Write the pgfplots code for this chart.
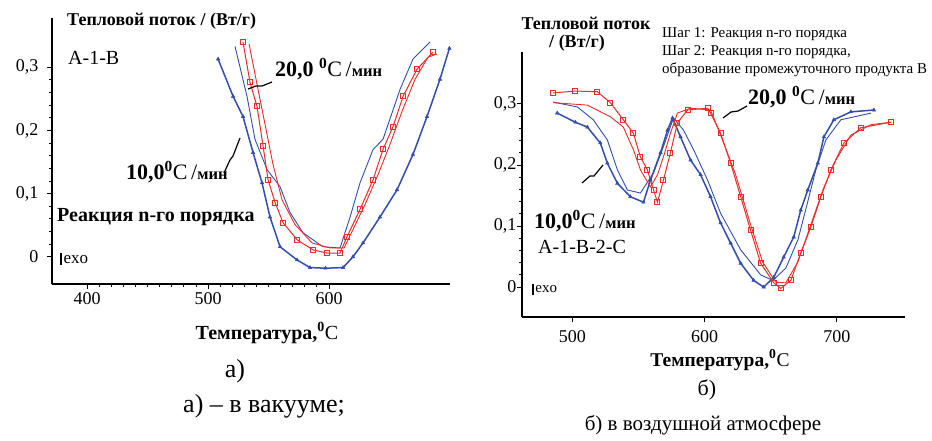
\documentclass[border=0pt]{standalone}
\usepackage{fontspec}
\setmainfont{Liberation Serif}
\usepackage{pgfplots}
\pgfplotsset{compat=1.18}

\definecolor{cblue}{RGB}{50,78,170}
\definecolor{cred}{RGB}{238,42,42}

\newcommand\fs[1]{\fontsize{#1}{#1}\selectfont}
\newcommand\rate[1]{\fs{22}\textbf{#1}\textsuperscript{\textbf{0}}C\,/\textbf{\fs{16.5}мин}}

\pgfplotsset{
  dsc/.style={
    scale only axis, clip=false,
    axis x line=bottom, axis y line=left,
    axis line style={-, line width=1.3pt},
    tick align=outside,
    major tick length=5pt, minor tick length=3pt,
    every tick/.style={black, line width=0.9pt},
    ticklabel style={font=\fs{18}},
    minor y tick num=4,
    ytick={0,0.1,0.2,0.3}, yticklabels={0,{0,1},{0,2},{0,3}},
  },
  bline/.style={draw=cblue, line width=0.9pt, no marks},
  bmark/.style={draw=cblue, line width=1.5pt, mark=triangle*, mark size=2pt,
    mark options={fill=cblue, draw=cblue, line width=0.5pt}},
  rline/.style={draw=cred, line width=0.9pt, no marks},
  rmark/.style={draw=cred, line width=1pt, mark=square, mark size=2.5pt,
    mark options={draw=cred, line width=1pt}},
}

\begin{document}
\begin{tikzpicture}
\useasboundingbox (0pt,0pt) rectangle (932pt,-440pt);

% ---------------- panel a): vacuum ----------------
\begin{axis}[dsc,
  at={(52pt,-284pt)}, anchor=south west, width=398pt, height=266pt,
  xmin=371, xmax=700, ymin=-0.043, ymax=0.378,
  xtick={400,500,600}, xticklabels={400,500,600},
  minor x tick num=9, yticklabel shift=5pt]
% 10 C/min, measured points
\addplot[bmark] coordinates {
 (508.3,0.313) (520.7,0.254) (528.9,0.222) (537.2,0.165) (544.6,0.117)
 (551.2,0.063) (559.5,0.016) (573.6,-0.005) (584.3,-0.017) (597.0,-0.018)
 (611.6,-0.017) (619.8,0.000) (628.1,0.022) (642.1,0.063) (656.2,0.106)
 (669.4,0.162) (681.0,0.222) (691.7,0.281) (699.5,0.330)};
% 10 C/min, model
\addplot[bline] coordinates {
 (522.3,0.333) (532.2,0.254) (538.8,0.186) (548.8,0.138) (559.5,0.111)
 (567.8,0.070) (578.5,0.038) (595.0,0.016) (609.1,0.014) (617.4,0.063)
 (625.6,0.117) (636.4,0.170) (644.6,0.186) (658.7,0.265) (669.4,0.313)
 (683.5,0.340)};
% 20 C/min, model
\addplot[rline] coordinates {
 (533.9,0.337) (541.3,0.265) (547.9,0.202) (553.7,0.146) (561.2,0.090)
 (571.9,0.051) (586.0,0.022) (600.8,0.014) (612.4,0.014) (619.0,0.040)
 (629.8,0.083) (640.5,0.130) (650.4,0.178) (660.3,0.230) (671.1,0.281)
 (681.8,0.316) (689.3,0.321)};
% 20 C/min, measured points
\addplot[rmark] coordinates {
 (528.9,0.340) (534.7,0.276) (540.5,0.238) (545.5,0.175) (549.6,0.122)
 (555.4,0.086) (562.0,0.054) (573.6,0.027) (586.8,0.011) (598.3,0.006)
 (609.1,0.006) (614.9,0.032) (625.6,0.075) (636.4,0.122) (644.6,0.170)
 (652.9,0.206) (661.2,0.254) (672.7,0.297) (686.0,0.324)};
\end{axis}

% ---------------- panel b): air ----------------
\begin{axis}[dsc,
  at={(522pt,-317pt)}, anchor=south west, width=383pt, height=265pt,
  xmin=462, xmax=751.5, ymin=-0.049, ymax=0.385,
  xtick={500,600,700}, xticklabels={500,600,700},
  xticklabel shift=5pt, yticklabel shift=-3pt]
% 10 C/min, measured points
\addplot[bmark] coordinates {
 (488.6,0.285) (502.3,0.270) (511.4,0.262) (521.2,0.236) (526.5,0.203)
 (534.1,0.170) (543.9,0.148) (553.8,0.139) (559.1,0.175) (566.7,0.220)
 (572.0,0.257) (575.8,0.277) (581.8,0.246) (589.4,0.208) (597.0,0.184)
 (604.5,0.148) (612.1,0.105) (619.7,0.072) (627.3,0.039) (637.1,0.011)
 (644.7,0.000) (652.3,0.016) (659.8,0.049) (667.4,0.082) (672.7,0.126)
 (678.0,0.159) (685.6,0.203) (690.2,0.246) (697.7,0.274) (710.6,0.287)
 (728.0,0.290)};
% 10 C/min, model
\addplot[bline] coordinates {
 (485.6,0.303) (503.8,0.295) (515.9,0.274) (526.5,0.241) (534.1,0.192)
 (541.7,0.159) (551.5,0.154) (561.4,0.187) (568.9,0.230) (576.5,0.277)
 (584.1,0.257) (591.7,0.225) (602.3,0.175) (612.1,0.121) (627.3,0.061)
 (642.4,0.020) (651.5,0.011) (661.4,0.031) (670.5,0.077) (677.3,0.134)
 (684.1,0.192) (691.7,0.241) (703.0,0.274) (725.8,0.285)};
% 20 C/min, model
\addplot[rline] coordinates {
 (485.6,0.302) (511.4,0.298) (528.8,0.279) (538.6,0.262) (546.2,0.225)
 (551.5,0.192) (559.1,0.164) (564.4,0.184) (568.9,0.213) (574.2,0.252)
 (579.5,0.285) (589.4,0.293) (604.5,0.290) (612.1,0.249) (623.5,0.184)
 (634.8,0.102) (643.9,0.041) (653.8,0.008) (661.4,0.007) (670.5,0.041)
 (680.3,0.102) (689.4,0.159) (699.2,0.208) (710.6,0.249) (725.8,0.266)
 (740.9,0.270)};
% 20 C/min, measured points
\addplot[rmark] coordinates {
 (485.6,0.318) (502.3,0.321) (518.9,0.320) (528.8,0.302) (538.6,0.274)
 (546.2,0.252) (551.5,0.213) (556.8,0.192) (561.4,0.159) (564.4,0.139)
 (568.9,0.175) (574.2,0.220) (579.5,0.269) (587.1,0.290) (602.3,0.293)
 (604.5,0.285) (612.1,0.252) (619.7,0.203) (627.3,0.148) (634.8,0.093)
 (642.4,0.039) (652.3,0.007) (657.6,-0.002) (665.2,0.011) (672.7,0.056)
 (680.3,0.098) (687.9,0.148) (695.5,0.192) (705.3,0.236) (718.2,0.261)
 (740.9,0.270)};
\end{axis}

% ---------------- annotations, panel a) ----------------
\node[anchor=west, inner sep=0] at (67pt,-21pt) {\fs{18}\bfseries Тепловой поток / (Вт/г)};
\node[anchor=west, inner sep=0] at (68pt,-58pt) {\fs{20}A-1-B};
\node[anchor=west, inner sep=0] at (275pt,-69pt) {\rate{20,0 }};
\draw[line width=1.2pt] (248pt,-89pt) -- (256pt,-86pt) -- (262pt,-86pt) -- (272pt,-82pt);
\node[anchor=west, inner sep=0] at (126pt,-172pt) {\rate{10,0}};
\draw[line width=1.2pt] (224pt,-173pt) -- (230pt,-160pt) -- (233pt,-156pt) -- (240pt,-138pt);
\node[anchor=west, inner sep=0] at (57pt,-217pt) {\fs{20}\bfseries Реакция n-го порядка};
\node[anchor=west, inner sep=0] at (60pt,-259pt) {\rule[-2pt]{1.8pt}{12pt}\,\fs{17}exo};
\node[inner sep=0] at (267pt,-333pt) {\fs{20}\textbf{Температура,\textsuperscript{0}}C};
\node[inner sep=0] at (235pt,-371pt) {\fs{26}а)};
\node[inner sep=0] at (264pt,-406pt) {\fs{26}а) – в вакууме;};

% ---------------- annotations, panel b) ----------------
\node[inner sep=0] at (586pt,-23pt) {\fs{18}\bfseries Тепловой поток};
\node[inner sep=0] at (577pt,-43pt) {\fs{18}\bfseries / (Вт/г)};
\node[anchor=north west, inner sep=0, align=left,
      font={\fontsize{15}{18}\selectfont}] at (662pt,-27pt)
  {Шаг 1: Реакция n-го порядка\\ Шаг 2: Реакция n-го порядка,\\
   образование промежуточного продукта В};
\node[anchor=west, inner sep=0] at (748pt,-97pt) {\rate{20,0 }};
\draw[line width=1.2pt] (723pt,-118pt) -- (731pt,-112pt) -- (738pt,-111pt) -- (747pt,-106pt);
\node[anchor=west, inner sep=0] at (534pt,-221pt) {\rate{10,0}};
\draw[line width=1.2pt] (582pt,-183pt) -- (590pt,-176pt) -- (594pt,-176pt) -- (603pt,-165pt);
\node[anchor=west, inner sep=0] at (538pt,-247pt) {\fs{20}A-1-B-2-C};
\node[anchor=west, inner sep=0] at (532pt,-289pt) {\rule[-2pt]{1.6pt}{11pt}\,\fs{15}exo};
\node[inner sep=0] at (720pt,-360pt) {\fs{19.5}\textbf{Температура,\textsuperscript{0}}C};
\node[inner sep=0] at (707pt,-390pt) {\fs{22}б)};
\node[inner sep=0] at (703pt,-425pt) {\fs{21}б) в воздушной атмосфере};
\end{tikzpicture}
\end{document}
